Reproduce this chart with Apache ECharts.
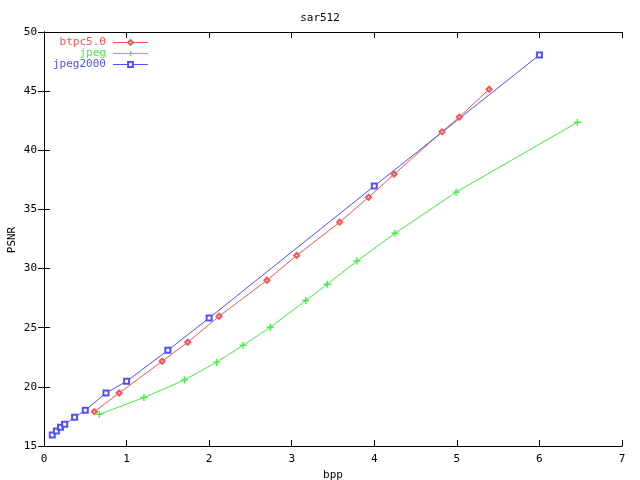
<!DOCTYPE html>
<html><head><meta charset="utf-8">
<script src="https://cdn.jsdelivr.net/npm/echarts@6/dist/echarts.min.js"></script>
<style>html,body{margin:0;padding:0;background:#fff}#c{width:640px;height:480px}</style>
</head><body><div id="c"></div>
<script>
const titleText = 'sar512';
const xLabel = 'bpp';
const yLabel = 'PSNR';
const seriesNames = ['btpc5.0', 'jpeg', 'jpeg2000'];

const btpcX = [0.61, 0.91, 1.43, 1.74, 2.12, 2.70, 3.06, 3.58, 3.93, 4.24, 4.82, 5.03, 5.39];
const btpcY = [17.90, 19.48, 22.16, 23.77, 25.97, 29.01, 31.11, 33.92, 36.03, 37.98, 41.56, 42.81, 45.16];

const jpegX = [0.67, 1.21, 1.70, 2.09, 2.41, 2.74, 3.17, 3.43, 3.79, 4.25, 4.99, 6.46];
const jpegY = [17.68, 19.10, 20.58, 22.09, 23.51, 25.04, 27.30, 28.68, 30.64, 32.98, 36.46, 42.37];

const j2kX = [0.10, 0.15, 0.20, 0.25, 0.37, 0.50, 0.75, 1.00, 1.50, 2.00, 4.00, 6.00];
const j2kY = [15.93, 16.27, 16.58, 16.84, 17.43, 18.02, 19.48, 20.47, 23.09, 25.82, 36.98, 48.06];

const xTicks = [0, 1, 2, 3, 4, 5, 6, 7];
const yTicks = [15, 20, 25, 30, 35, 40, 45, 50];

const colors = ['#ff5050', '#40f040', '#5050ff'];
const FONT = 'DejaVu Sans Mono';
const pairs = (xs, ys) => xs.map((x, i) => [x, ys[i]]);

const chart = echarts.init(document.getElementById('c'), null, {renderer: 'canvas'});
const axisCommon = {
  axisLine: {show: true, lineStyle: {color: '#000', width: 1}},
  axisTick: {show: true, inside: true, length: 6, lineStyle: {color: '#000'}},
  splitLine: {show: false},
  axisLabel: {color: '#000', fontFamily: FONT, fontSize: 11}
};
chart.setOption({
  animation: false,
  backgroundColor: '#fff',
  textStyle: {fontFamily: FONT},
  title: {text: titleText, left: 'center', top: 8, textStyle: {fontFamily: FONT, fontSize: 11, fontWeight: 'normal', color: '#000'}},
  grid: {left: 44, right: 18, top: 32, bottom: 34, containLabel: false, outerBoundsMode: 'none'},
  graphic: [{
    type: 'text', x: 12, y: 240, rotation: Math.PI / 2,
    style: {text: yLabel, fill: '#000', font: '11px "DejaVu Sans Mono"', textAlign: 'center', textVerticalAlign: 'middle'}
  }],
  legend: {
    orient: 'vertical', left: 53, top: 37, align: 'right',
    itemWidth: 35, itemHeight: 6, itemGap: 0,
    lineStyle: {width: 1},
    itemStyle: {borderWidth: 1},
    data: seriesNames.map((n, i) => ({name: n, textStyle: {color: colors[i]}})),
    textStyle: {fontFamily: FONT, fontSize: 11, lineHeight: 11, padding: [0, 2, 0, 0]},
    padding: 0
  },
  xAxis: [
    Object.assign({}, axisCommon, {type: 'value', min: xTicks[0], max: xTicks[xTicks.length - 1], interval: 1, position: 'bottom',
      name: xLabel, nameLocation: 'middle', nameGap: 20, nameTextStyle: {fontFamily: FONT, fontSize: 11, color: '#000'},
      axisLabel: {color: '#000', fontFamily: FONT, fontSize: 11, margin: 8}}),
    Object.assign({}, axisCommon, {type: 'value', min: xTicks[0], max: xTicks[xTicks.length - 1], interval: 1, position: 'top', axisLabel: {show: false}})
  ],
  yAxis: [
    Object.assign({}, axisCommon, {type: 'value', min: yTicks[0], max: yTicks[yTicks.length - 1], interval: 5, position: 'left',
      axisLabel: {color: '#000', fontFamily: FONT, fontSize: 11, margin: 7}}),
    Object.assign({}, axisCommon, {type: 'value', min: yTicks[0], max: yTicks[yTicks.length - 1], interval: 5, position: 'right', axisLabel: {show: false}})
  ],
  series: [
    {name: seriesNames[0], type: 'line', data: pairs(btpcX, btpcY), symbol: 'emptyDiamond', symbolSize: 5,
     lineStyle: {color: colors[0], width: 1}, itemStyle: {color: colors[0], borderColor: colors[0], borderWidth: 1}},
    {name: seriesNames[1], type: 'line', data: pairs(jpegX, jpegY), symbol: 'path://M4,0H6V4H10V6H6V10H4V6H0V4H4Z', symbolSize: 7,
     lineStyle: {color: colors[1], width: 1}, itemStyle: {color: colors[1], borderWidth: 0}},
    {name: seriesNames[2], type: 'line', data: pairs(j2kX, j2kY), symbol: 'emptyRect', symbolSize: 5,
     lineStyle: {color: colors[2], width: 1}, itemStyle: {color: colors[2], borderColor: colors[2], borderWidth: 1}}
  ]
});
</script></body></html>
